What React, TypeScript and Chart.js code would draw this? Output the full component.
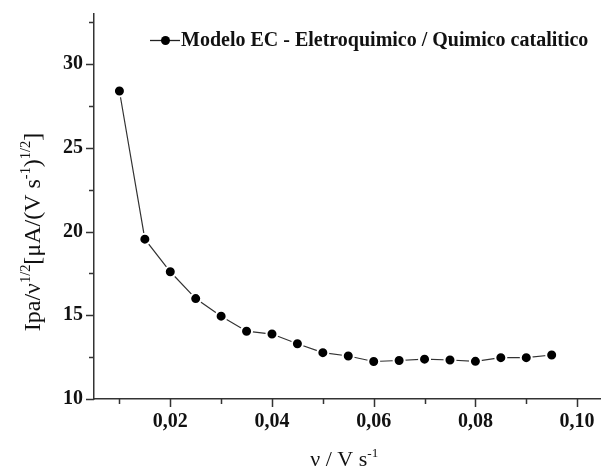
import { useEffect, useRef } from "react";
import { Chart, registerables } from "chart.js";

Chart.register(...registerables);

// ---- data ----
const scanRates = [0.01, 0.015, 0.02, 0.025, 0.03, 0.035, 0.04, 0.045, 0.05, 0.055, 0.06, 0.065, 0.07, 0.075, 0.08, 0.085, 0.09, 0.095];
const ipaNorm = [28.4, 19.55, 17.6, 16.0, 14.95, 14.05, 13.88, 13.3, 12.77, 12.57, 12.24, 12.3, 12.38, 12.33, 12.25, 12.47, 12.47, 12.63];
const seriesLabel = "Modelo EC - Eletroquimico / Quimico catalitico";
const xMajorTicks = [0.02, 0.04, 0.06, 0.08, 0.1];
const xMinorTicks = [0.01, 0.03, 0.05, 0.07, 0.09];
const yMajorTicks = [10, 15, 20, 25, 30];
const yMinorTicks = [12.5, 17.5, 22.5, 27.5, 32.5];

type Part = { t: string; sup?: boolean };
const xTitle: Part[] = [{ t: "ν / V s" }, { t: "-1", sup: true }];
const yTitle: Part[] = [
  { t: "Ipa/ν" },
  { t: "1/2", sup: true },
  { t: "[μA/(V s" },
  { t: "-1", sup: true },
  { t: ")" },
  { t: "1/2", sup: true },
  { t: "]" },
];

const SERIF = "'Liberation Serif', 'Times New Roman', serif";
const INK = "#111";
const AXIS = "#333";

function drawRich(ctx: CanvasRenderingContext2D, parts: Part[], cx: number, baseline: number, size: number) {
  const supSize = size * 0.6;
  const widths = parts.map((p) => {
    ctx.font = `${p.sup ? supSize : size}px ${SERIF}`;
    return ctx.measureText(p.t).width;
  });
  const total = widths.reduce((a, b) => a + b, 0);
  let x = cx - total / 2;
  ctx.textBaseline = "alphabetic";
  ctx.textAlign = "left";
  parts.forEach((p, i) => {
    ctx.font = `${p.sup ? supSize : size}px ${SERIF}`;
    ctx.fillText(p.t, x, p.sup ? baseline - size * 0.42 : baseline);
    x += widths[i];
  });
}

const overlay = {
  id: "overlay",
  afterDraw(chart: any) {
    const ctx: CanvasRenderingContext2D = chart.ctx;
    const xs = chart.scales.x;
    const ys = chart.scales.y;
    const area = chart.chartArea;
    ctx.save();
    ctx.strokeStyle = AXIS;
    ctx.lineWidth = 1.5;
    ctx.beginPath();
    yMajorTicks.forEach((v) => {
      const y = Math.round(ys.getPixelForValue(v)) + 0.5;
      ctx.moveTo(area.left - 8, y);
      ctx.lineTo(area.left, y);
    });
    yMinorTicks.forEach((v) => {
      const y = Math.round(ys.getPixelForValue(v)) + 0.5;
      ctx.moveTo(area.left - 5, y);
      ctx.lineTo(area.left, y);
    });
    xMajorTicks.forEach((v) => {
      const x = Math.round(xs.getPixelForValue(v)) + 0.5;
      ctx.moveTo(x, area.bottom);
      ctx.lineTo(x, area.bottom + 8);
    });
    xMinorTicks.forEach((v) => {
      const x = Math.round(xs.getPixelForValue(v)) + 0.5;
      ctx.moveTo(x, area.bottom);
      ctx.lineTo(x, area.bottom + 5);
    });
    ctx.stroke();

    ctx.fillStyle = INK;
    // x title
    drawRich(ctx, xTitle, (area.left + area.right) / 2 - 3, 466, 22);
    // y title
    ctx.save();
    ctx.translate(40, 232);
    ctx.rotate(-Math.PI / 2);
    drawRich(ctx, yTitle, 0, 0, 24);
    ctx.restore();

    // legend
    const ly = 40.5;
    ctx.strokeStyle = "#222";
    ctx.lineWidth = 1.3;
    ctx.beginPath();
    ctx.moveTo(150, ly);
    ctx.lineTo(180, ly);
    ctx.stroke();
    ctx.fillStyle = "#000";
    ctx.beginPath();
    ctx.arc(165.5, ly, 4.5, 0, Math.PI * 2);
    ctx.fill();
    ctx.fillStyle = INK;
    ctx.font = `bold 20px ${SERIF}`;
    ctx.textAlign = "left";
    ctx.textBaseline = "alphabetic";
    ctx.fillText(seriesLabel, 181, 46);
    ctx.restore();
  },
};

export default function App() {
  const ref = useRef<HTMLCanvasElement>(null);
  useEffect(() => {
    if (!ref.current) return;
    const chart = new Chart(ref.current, {
      type: "line",
      data: {
        datasets: [
          {
            label: seriesLabel,
            data: scanRates.map((x, i) => ({ x, y: ipaNorm[i] })),
            borderColor: "#333",
            borderWidth: 1.2,
            pointRadius: 5.5,
            pointBackgroundColor: "#000",
            pointBorderColor: "#fff",
            pointBorderWidth: 2,
            tension: 0,
            fill: false,
          },
        ],
      },
      options: {
        responsive: false,
        animation: false,
        layout: { padding: { top: 14, right: 0, left: 0, bottom: 0 } },
        plugins: { legend: { display: false }, tooltip: { enabled: false } },
        scales: {
          x: {
            type: "linear",
            min: 0.005,
            max: 0.1046,
            afterFit: (s: any) => {
              s.height = 71;
              s.paddingLeft = 0;
              s.paddingRight = 0;
            },
            afterBuildTicks: (s: any) => {
              s.ticks = xMajorTicks.map((value) => ({ value }));
            },
            grid: { display: false, drawTicks: false },
            border: { display: true, color: AXIS, width: 1.5 },
            ticks: {
              padding: 11,
              color: INK,
              font: { family: SERIF, size: 20, weight: "bold" },
              callback: (v: any) => Number(v).toFixed(2).replace(".", ","),
            },
          },
          y: {
            type: "linear",
            min: 10,
            max: 33,
            afterFit: (s: any) => {
              s.width = 94;
              s.paddingTop = 0;
              s.paddingBottom = 0;
            },
            afterBuildTicks: (s: any) => {
              s.ticks = yMajorTicks.map((value) => ({ value }));
            },
            grid: { display: false, drawTicks: false },
            border: { display: true, color: AXIS, width: 1.5 },
            ticks: {
              padding: 11,
              color: INK,
              font: { family: SERIF, size: 20, weight: "bold" },
              callback: (v: any) => String(v),
            },
          },
        },
      },
      plugins: [overlay],
    });
    return () => chart.destroy();
  }, []);
  return (
    <div style={{ position: "fixed", left: 0, top: 0, width: 608, height: 470, background: "#fff" }}>
      <canvas ref={ref} width={608} height={470} />
    </div>
  );
}
